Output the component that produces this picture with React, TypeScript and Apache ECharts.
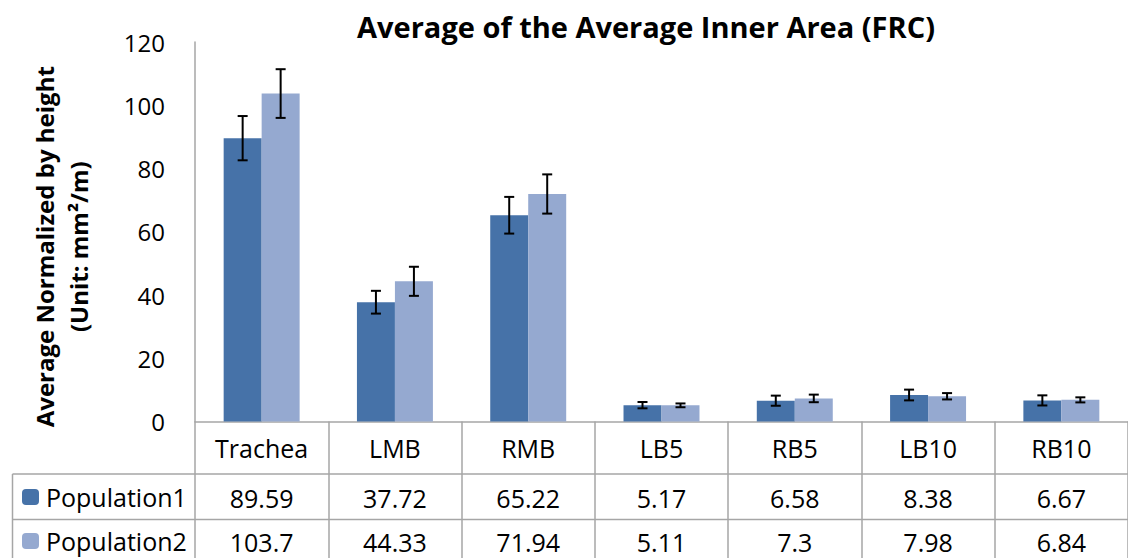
import React, { useEffect, useRef } from "react";
import * as echarts from "echarts";

const categories = ["Trachea", "LMB", "RMB", "LB5", "RB5", "LB10", "RB10"];
const seriesNames = ["Population1", "Population2"];
const population1 = [89.59, 37.72, 65.22, 5.17, 6.58, 8.38, 6.67];
const population2 = [103.7, 44.33, 71.94, 5.11, 7.3, 7.98, 6.84];
const error1 = [7.0, 3.6, 5.8, 1.0, 1.6, 1.7, 1.6];
const error2 = [7.7, 4.6, 6.2, 0.6, 1.2, 1.0, 0.8];
const yTicks = { min: 0, max: 120, interval: 20 };

const titleText = "Average of the Average Inner Area (FRC)";
const yName = "Average Normalized by height\n(Unit: mm\u00B2/m)";

const COLORS = ["#4672A8", "#95A9D0"];
const FONT = "Open Sans";
const GAP = 0.43;
const LINE = "#A6A6A6";
const TABLE_FS = 25;

export default function App() {
  const ref = useRef<HTMLDivElement>(null);
  useEffect(() => {
    if (!ref.current) return;
    const chart = echarts.init(ref.current, null, { renderer: "svg" });
    const errData = (vals: number[], errs: number[]) =>
      vals.map((v, i) => [i, v - errs[i], v + errs[i]]);
    const makeErr = (sign: number) => (params: any, api: any) => {
      const ci = api.value(0);
      const lo = api.coord([ci, api.value(1)]);
      const hi = api.coord([ci, api.value(2)]);
      const band = api.size([1, 0])[0];
      const bw = (band * (1 - GAP)) / 2;
      const x = lo[0] + (sign * bw) / 2;
      const cap = 5;
      const style = { stroke: "#000", lineWidth: 2 };
      return {
        type: "group",
        children: [
          { type: "line", shape: { x1: x, y1: lo[1], x2: x, y2: hi[1] }, style },
          { type: "line", shape: { x1: x - cap, y1: lo[1], x2: x + cap, y2: lo[1] }, style },
          { type: "line", shape: { x1: x - cap, y1: hi[1], x2: x + cap, y2: hi[1] }, style },
        ],
      };
    };
    const option: any = {
      animation: false,
      backgroundColor: "#fff",
      title: {
        text: titleText,
        left: 641,
        textAlign: "center",
        top: 7,
        textStyle: { fontFamily: FONT, fontWeight: "bold", fontSize: 29, color: "#000" },
      },
      legend: {
        orient: "vertical",
        left: 22,
        top: 484.5,
        height: 140,
        padding: 0,
        itemWidth: 17,
        itemHeight: 16,
        itemGap: 19,
        data: seriesNames,
        textStyle: { fontFamily: FONT, fontSize: TABLE_FS, lineHeight: 25, color: "#000", padding: [0, 0, 0, 2] },
      },
      grid: { left: 195, top: 42, width: 943, height: 379.5 },
      xAxis: {
        type: "category",
        data: categories,
        axisLine: { lineStyle: { color: LINE, width: 1.5 } },
        axisTick: { show: true, alignWithLabel: false, interval: 0, length: 140, lineStyle: { color: LINE, width: 1.5 } },
        axisLabel: {
          interval: 0,
          margin: 26,
          verticalAlign: "middle",
          fontFamily: FONT,
          fontSize: TABLE_FS,
          color: "#000",
        },
      },
      yAxis: {
        type: "value",
        ...yTicks,
        name: yName,
        nameLocation: "middle",
        nameRotate: 90,
        nameGap: 100,
        nameTextStyle: {
          fontFamily: FONT,
          fontWeight: "bold",
          fontSize: 24,
          lineHeight: 34,
          color: "#000",
          padding: [0, 30, 0, 0],
        },
        axisLine: { show: true, lineStyle: { color: LINE, width: 1.5 } },
        axisTick: { show: false },
        splitLine: { show: false },
        axisLabel: { margin: 30, fontFamily: FONT, fontSize: 24, color: "#000" },
      },
      series: [
        {
          name: seriesNames[0],
          type: "bar",
          data: population1,
          barGap: "0%",
          barCategoryGap: GAP * 100 + "%",
          itemStyle: { color: COLORS[0] },
        },
        {
          name: seriesNames[1],
          type: "bar",
          data: population2,
          barGap: "0%",
          barCategoryGap: GAP * 100 + "%",
          itemStyle: { color: COLORS[1] },
        },
        {
          type: "custom",
          name: "err1",
          renderItem: makeErr(-1),
          data: errData(population1, error1),
          encode: { x: 0, y: [1, 2] },
          z: 10,
        },
        {
          type: "custom",
          name: "err2",
          renderItem: makeErr(1),
          data: errData(population2, error2),
          encode: { x: 0, y: [1, 2] },
          z: 10,
        },
      ],
    };
    chart.setOption(option);

    const rowY = [497.7, 541.7];
    const texts: any[] = [];
    [population1, population2].forEach((vals, r) => {
      vals.forEach((v, i) => {
        const x = chart.convertToPixel({ xAxisIndex: 0 }, i) as number;
        texts.push({
          type: "text",
          x,
          y: rowY[r],
          style: {
            text: String(v),
            fill: "#000",
            font: `${TABLE_FS}px ${FONT}`,
            align: "center",
            verticalAlign: "middle",
          },
        });
      });
    });
    const lineStyle = { stroke: LINE, lineWidth: 1.5 };
    chart.setOption({
      graphic: [
        { type: "line", shape: { x1: 12.5, y1: 474, x2: 1128, y2: 474 }, style: lineStyle },
        { type: "line", shape: { x1: 12.5, y1: 519.5, x2: 1128, y2: 519.5 }, style: lineStyle },
        { type: "line", shape: { x1: 12.5, y1: 474, x2: 12.5, y2: 558 }, style: lineStyle },
        ...texts,
      ],
    });
    return () => chart.dispose();
  }, []);
  return (
    <div
      ref={ref}
      style={{ position: "fixed", left: 0, top: 0, width: 1128, height: 558, background: "#fff" }}
    />
  );
}
